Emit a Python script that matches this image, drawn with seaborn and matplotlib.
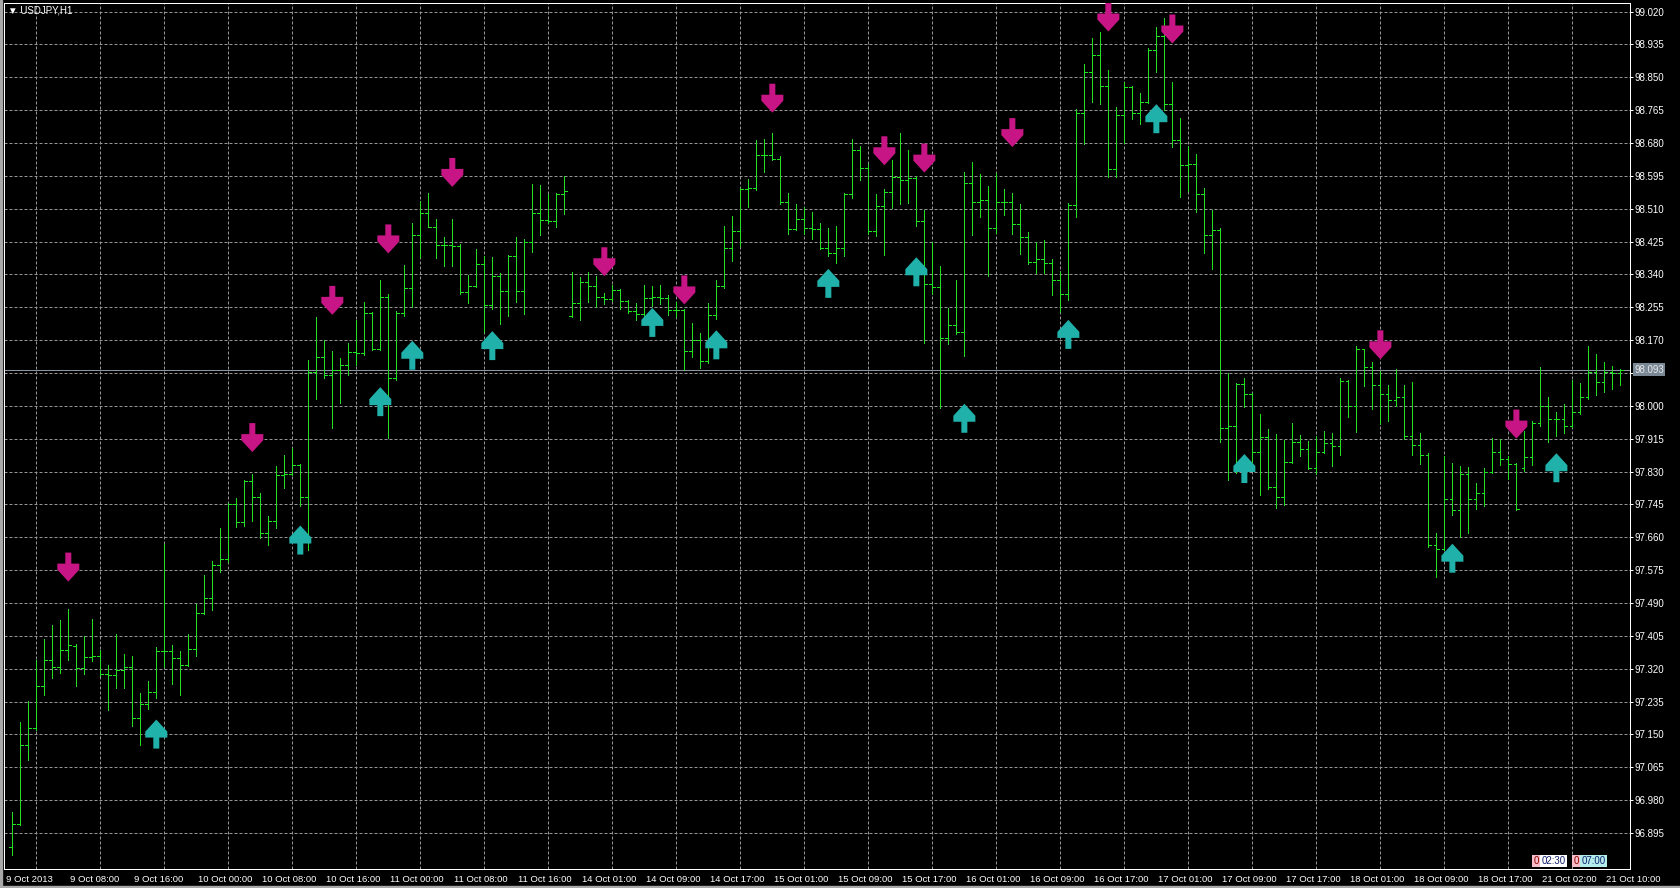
import numpy as np
import pandas as pd
import matplotlib
matplotlib.use("Agg")
import matplotlib.pyplot as plt
import matplotlib.transforms as mtransforms
from matplotlib.path import Path
import seaborn as sns

# USDJPY H1 bars, 9 Oct 01:00 .. 21 Oct 10:00
open_ = [96.860, 96.918, 97.122, 97.167, 97.276, 97.342, 97.325, 97.368, 97.380, 97.323,
         97.351, 97.353, 97.307, 97.303, 97.318, 97.325, 97.192, 97.228, 97.260, 97.366,
         97.366, 97.347, 97.331, 97.371, 97.464, 97.504, 97.589, 97.604, 97.746, 97.700,
         97.805, 97.764, 97.672, 97.702, 97.820, 97.825, 97.846, 97.764, 98.089, 98.126,
         98.080, 98.094, 98.105, 98.139, 98.136, 98.241, 98.148, 98.283, 98.071, 98.241,
         98.304, 98.441, 98.499, 98.464, 98.416, 98.416, 98.414, 98.295, 98.310, 98.367,
         98.261, 98.336, 98.296, 98.388, 98.296, 98.423, 98.499, 98.481, 98.479, 98.549,
         98.232, 98.265, 98.321, 98.310, 98.283, 98.276, 98.300, 98.272, 98.246, 98.238,
         98.279, 98.283, 98.279, 98.249, 98.247, 98.141, 98.171, 98.115, 98.236, 98.309,
         98.409, 98.452, 98.561, 98.563, 98.650, 98.650, 98.639, 98.527, 98.458, 98.484,
         98.460, 98.458, 98.409, 98.396, 98.409, 98.549, 98.663, 98.616, 98.452, 98.516,
         98.553, 98.592, 98.585, 98.590, 98.478, 98.316, 98.308, 98.176, 98.210, 98.190,
         98.576, 98.528, 98.532, 98.459, 98.528, 98.528, 98.470, 98.436, 98.373, 98.379,
         98.370, 98.327, 98.289, 98.520, 98.757, 98.865, 98.908, 98.828, 98.614, 98.752,
         98.824, 98.759, 98.787, 98.922, 98.957, 98.781, 98.688, 98.623, 98.626, 98.548,
         98.442, 98.456, 97.944, 97.947, 98.056, 98.030, 97.881, 97.920, 97.789, 97.764,
         97.855, 97.906, 97.889, 97.840, 97.880, 97.905, 97.896, 98.064, 98.001, 98.146,
         98.101, 98.055, 98.032, 98.015, 98.023, 97.923, 97.900, 97.874, 97.639, 97.630,
         97.758, 97.730, 97.823, 97.760, 97.775, 97.829, 97.880, 97.863, 97.851, 97.840,
         97.868, 97.956, 98.001, 97.965, 97.965, 97.948, 97.984, 98.023, 98.087, 98.061,
         98.087, 98.084]
high = [96.949, 97.183, 97.237, 97.342, 97.397, 97.432, 97.447, 97.475, 97.385, 97.405,
        97.449, 97.368, 97.331, 97.410, 97.359, 97.353, 97.257, 97.289, 97.377, 97.644,
        97.382, 97.365, 97.410, 97.488, 97.563, 97.600, 97.685, 97.749, 97.761, 97.808,
        97.825, 97.775, 97.715, 97.845, 97.874, 97.892, 97.850, 98.119, 98.231, 98.171,
        98.143, 98.123, 98.162, 98.222, 98.270, 98.244, 98.327, 98.289, 98.245, 98.365,
        98.474, 98.531, 98.550, 98.483, 98.438, 98.483, 98.419, 98.339, 98.405, 98.388,
        98.385, 98.345, 98.391, 98.436, 98.431, 98.575, 98.572, 98.549, 98.551, 98.595,
        98.347, 98.333, 98.347, 98.336, 98.291, 98.313, 98.302, 98.275, 98.265, 98.314,
        98.311, 98.314, 98.288, 98.268, 98.250, 98.214, 98.188, 98.266, 98.325, 98.466,
        98.492, 98.564, 98.587, 98.689, 98.691, 98.705, 98.646, 98.551, 98.523, 98.515,
        98.501, 98.472, 98.460, 98.465, 98.552, 98.691, 98.673, 98.627, 98.549, 98.561,
        98.636, 98.705, 98.663, 98.596, 98.508, 98.423, 98.361, 98.253, 98.327, 98.605,
        98.632, 98.601, 98.569, 98.603, 98.560, 98.551, 98.522, 98.450, 98.425, 98.429,
        98.379, 98.349, 98.524, 98.767, 98.885, 98.951, 98.968, 98.869, 98.774, 98.839,
        98.828, 98.810, 98.925, 98.979, 99.003, 98.839, 98.746, 98.672, 98.651, 98.565,
        98.508, 98.460, 98.084, 98.060, 98.071, 98.034, 97.980, 97.941, 97.928, 97.913,
        97.956, 97.926, 97.909, 97.923, 97.935, 97.930, 98.073, 98.067, 98.156, 98.148,
        98.113, 98.090, 98.055, 98.096, 98.055, 98.061, 97.930, 97.877, 97.670, 97.870,
        97.853, 97.844, 97.842, 97.801, 97.840, 97.917, 97.915, 97.870, 97.853, 97.935,
        97.961, 98.101, 98.023, 97.984, 98.004, 98.067, 98.058, 98.156, 98.133, 98.113,
        98.104, 98.096]
low = [96.838, 96.915, 97.083, 97.161, 97.251, 97.295, 97.310, 97.342, 97.275, 97.307,
       97.340, 97.301, 97.214, 97.270, 97.270, 97.172, 97.122, 97.216, 97.244, 97.324,
       97.281, 97.253, 97.328, 97.353, 97.461, 97.471, 97.571, 97.595, 97.687, 97.689,
       97.702, 97.659, 97.641, 97.685, 97.787, 97.822, 97.742, 97.628, 98.019, 98.073,
       97.944, 98.008, 98.080, 98.105, 98.131, 98.145, 98.145, 97.917, 98.068, 98.233,
       98.257, 98.385, 98.462, 98.382, 98.362, 98.362, 98.290, 98.265, 98.307, 98.192,
       98.250, 98.212, 98.232, 98.270, 98.239, 98.399, 98.442, 98.473, 98.462, 98.497,
       98.229, 98.222, 98.270, 98.257, 98.264, 98.272, 98.250, 98.241, 98.222, 98.229,
       98.259, 98.264, 98.236, 98.230, 98.094, 98.126, 98.098, 98.111, 98.225, 98.305,
       98.374, 98.413, 98.515, 98.558, 98.605, 98.636, 98.523, 98.446, 98.455, 98.446,
       98.432, 98.406, 98.387, 98.370, 98.389, 98.538, 98.584, 98.446, 98.439, 98.391,
       98.512, 98.523, 98.525, 98.465, 98.163, 98.290, 97.994, 98.159, 98.187, 98.130,
       98.442, 98.489, 98.336, 98.448, 98.494, 98.446, 98.393, 98.367, 98.343, 98.343,
       98.286, 98.243, 98.275, 98.489, 98.677, 98.787, 98.781, 98.593, 98.593, 98.679,
       98.741, 98.729, 98.784, 98.865, 98.765, 98.670, 98.541, 98.557, 98.502, 98.396,
       98.355, 97.907, 97.809, 97.826, 97.998, 97.851, 97.769, 97.786, 97.737, 97.743,
       97.853, 97.870, 97.837, 97.823, 97.878, 97.844, 97.874, 97.972, 97.932, 98.051,
       97.992, 97.952, 97.961, 98.001, 97.915, 97.874, 97.851, 97.636, 97.558, 97.627,
       97.717, 97.661, 97.672, 97.734, 97.741, 97.826, 97.848, 97.811, 97.732, 97.831,
       97.846, 97.949, 97.906, 97.922, 97.930, 97.946, 97.980, 98.018, 98.027, 98.036,
       98.044, 98.055]
close = [96.918, 97.122, 97.167, 97.276, 97.342, 97.325, 97.368, 97.382, 97.323, 97.351,
         97.353, 97.307, 97.303, 97.318, 97.325, 97.192, 97.228, 97.260, 97.366, 97.366,
         97.347, 97.331, 97.371, 97.464, 97.504, 97.589, 97.604, 97.746, 97.700, 97.805,
         97.764, 97.672, 97.702, 97.820, 97.825, 97.846, 97.764, 98.089, 98.126, 98.080,
         98.094, 98.105, 98.139, 98.136, 98.241, 98.148, 98.283, 98.071, 98.241, 98.304,
         98.441, 98.499, 98.464, 98.416, 98.416, 98.414, 98.295, 98.310, 98.367, 98.261,
         98.336, 98.296, 98.388, 98.296, 98.423, 98.499, 98.481, 98.479, 98.549, 98.556,
         98.265, 98.321, 98.310, 98.283, 98.276, 98.300, 98.272, 98.246, 98.238, 98.279,
         98.283, 98.279, 98.249, 98.247, 98.141, 98.171, 98.115, 98.236, 98.309, 98.409,
         98.452, 98.561, 98.563, 98.650, 98.650, 98.639, 98.527, 98.458, 98.484, 98.460,
         98.458, 98.409, 98.396, 98.409, 98.549, 98.663, 98.616, 98.452, 98.516, 98.553,
         98.592, 98.585, 98.590, 98.478, 98.316, 98.308, 98.176, 98.210, 98.190, 98.576,
         98.528, 98.532, 98.459, 98.528, 98.528, 98.470, 98.436, 98.373, 98.379, 98.370,
         98.327, 98.289, 98.520, 98.757, 98.865, 98.908, 98.828, 98.614, 98.752, 98.824,
         98.759, 98.787, 98.922, 98.957, 98.781, 98.688, 98.623, 98.626, 98.548, 98.442,
         98.456, 97.944, 97.947, 98.056, 98.030, 97.881, 97.920, 97.789, 97.764, 97.855,
         97.906, 97.889, 97.840, 97.880, 97.905, 97.896, 98.064, 98.001, 98.146, 98.101,
         98.055, 98.032, 98.015, 98.023, 97.923, 97.900, 97.874, 97.639, 97.630, 97.758,
         97.730, 97.823, 97.760, 97.775, 97.829, 97.880, 97.863, 97.851, 97.734, 97.868,
         97.956, 98.001, 97.965, 97.965, 97.948, 97.984, 98.023, 98.087, 98.061, 98.087,
         98.084, 98.092]

# signal arrows: bar number and price where the arrow sits
down_bars = [8, 31, 41, 48, 56, 75, 85, 96, 110, 115, 126, 138, 146, 172, 189]
down_price = [97.583, 97.918, 98.273, 98.432, 98.604, 98.373, 98.300, 98.796, 98.660,
              98.641, 98.707, 99.006, 98.975, 98.158, 97.953]
up_bars = [19, 37, 47, 51, 61, 81, 89, 103, 114, 120, 133, 144, 155, 181, 194]
up_price = [97.151, 97.653, 98.011, 98.131, 98.156, 98.216, 98.158, 98.317, 98.347,
            97.968, 98.185, 98.743, 97.838, 97.606, 97.840]

time_labels = ['9 Oct 2013', '9 Oct 08:00', '9 Oct 16:00', '10 Oct 00:00', '10 Oct 08:00',
               '10 Oct 16:00', '11 Oct 00:00', '11 Oct 08:00', '11 Oct 16:00', '14 Oct 01:00',
               '14 Oct 09:00', '14 Oct 17:00', '15 Oct 01:00', '15 Oct 09:00', '15 Oct 17:00',
               '16 Oct 01:00', '16 Oct 09:00', '16 Oct 17:00', '17 Oct 01:00', '17 Oct 09:00',
               '17 Oct 17:00', '18 Oct 01:00', '18 Oct 09:00', '18 Oct 17:00', '21 Oct 02:00',
               '21 Oct 10:00']
price_ticks = [99.020, 98.935, 98.850, 98.765, 98.680, 98.595, 98.510, 98.425, 98.340,
               98.255, 98.170, 98.085, 98.000, 97.915, 97.830, 97.745, 97.660, 97.575,
               97.490, 97.405, 97.320, 97.235, 97.150, 97.065, 96.980, 96.895]
last_price = 98.093
event_bars = [191, 196]
event_times = ['02:30', '07:00']
event_colors = ['white', '#b4ecec']

df = pd.DataFrame({'open': open_, 'high': high, 'low': low, 'close': close})
df['bar'] = np.arange(1, len(df) + 1)
label_bars = np.arange(len(time_labels)) * 8

BAR_GREEN = '#22e022'
PINK = '#c71585'
TEAL = '#20b2aa'
GRID = '#959595'
PX = 0.72  # one pixel in points at dpi 100

sns.set_theme(style="dark", rc={
    "figure.facecolor": "black",
    "axes.facecolor": "black",
    "axes.edgecolor": "white",
    "axes.linewidth": PX,
    "text.color": "white",
    "xtick.color": "white",
    "ytick.color": "white",
})
plt.rcParams['font.family'] = ['Liberation Sans', 'DejaVu Sans']

W, H = 1680, 888
fig = plt.figure(figsize=(W / 100, H / 100), dpi=100)
# plot box in pixels: left 3.5, right 1630, top 3.5, bottom 869
ax = fig.add_axes([3.5 / W, 1 - 869 / H, (1630 - 3.5) / W, (869 - 3.5) / H])

# window frame strips (left and bottom)
fig.patches.append(plt.Rectangle((0, 0), 2 / W, 1, transform=fig.transFigure,
                                 color='#a8a8a8', zorder=0))
fig.patches.append(plt.Rectangle((0, 0), 1, 2 / H, transform=fig.transFigure,
                                 color='#a8a8a8', zorder=0))

# OHLC bars
tick = 0.36
ax.vlines(df['bar'], df['low'], df['high'], colors=BAR_GREEN, lw=PX, antialiased=False, zorder=3)
ax.hlines(df['open'], df['bar'] - tick, df['bar'], colors=BAR_GREEN, lw=PX, antialiased=False, zorder=3)
ax.hlines(df['close'], df['bar'], df['bar'] + tick, colors=BAR_GREEN, lw=PX, antialiased=False, zorder=3)

# arrows
up_verts = [(0, 14.5), (11, 2.5), (11, -3.5), (3, -3.5), (3, -14.5),
            (-3, -14.5), (-3, -3.5), (-11, -3.5), (-11, 2.5), (0, 14.5)]
codes = [Path.MOVETO] + [Path.LINETO] * 8 + [Path.CLOSEPOLY]
up_arrow = Path(up_verts, codes)
down_arrow = Path([(x, -y) for x, y in up_verts], codes)
arrow_s = (2 * 14.5 * PX) ** 2
sns.scatterplot(x=down_bars, y=down_price, marker=down_arrow, s=arrow_s, color=PINK,
                edgecolor='none', linewidth=0, ax=ax, zorder=4, legend=False)
sns.scatterplot(x=up_bars, y=up_price, marker=up_arrow, s=arrow_s, color=TEAL,
                edgecolor='none', linewidth=0, ax=ax, zorder=4, legend=False)

# last price line
ax.axhline(last_price, color='#8c96a2', lw=PX, zorder=2)

ax.set_xlim(-0.1, 203.2)
ax.set_ylim(96.802, 99.041)

# grid: vertical every 4 bars, horizontal at price ticks
ax.set_xticks(label_bars)
ax.set_xticklabels(time_labels)
ax.set_xticks(np.arange(0, 204, 4), minor=True)
ax.set_yticks(price_ticks)
# the 98.085 label sits under the last-price box, as in the terminal
ax.set_yticklabels(['' if abs(v - last_price) < 0.02 else f'{v:.3f}' for v in price_ticks])
ax.grid(True, which='minor', axis='x', color=GRID, lw=PX, linestyle=(0, (3, 2)))
ax.grid(True, which='major', axis='y', color=GRID, lw=PX, linestyle=(0, (3, 2)))
ax.grid(False, which='major', axis='x')
ax.set_axisbelow(True)

ax.tick_params(axis='x', which='major', direction='out', length=3.5, width=PX,
               pad=0.6, labelsize=6.8, colors='white')
ax.tick_params(axis='x', which='minor', length=0)
ax.tick_params(axis='y', left=False, right=True, labelleft=False, labelright=True,
               direction='out', length=2.5, width=PX, pad=1, labelsize=7, colors='white')
shift = mtransforms.ScaledTranslation(1.5 / 100, 0, fig.dpi_scale_trans)
for lab in ax.get_xticklabels():
    lab.set_horizontalalignment('left')
    lab.set_transform(lab.get_transform() + shift)

for sp in ax.spines.values():
    sp.set_color('white')
    sp.set_linewidth(PX)

# current price box on the price scale
ax.annotate(f'{last_price:.3f}', xy=(1, last_price), xycoords=('axes fraction', 'data'),
            xytext=(3, 0), textcoords='offset points', ha='left', va='center',
            fontsize=7, color='#e8e8e8', annotation_clip=False, zorder=10,
            bbox=dict(boxstyle='square,pad=0.15', fc='#7a8896', ec='none'))

# symbol caption
ax.text(0.0025, 0.9915, '▼ USDJPY,H1', transform=ax.transAxes, ha='left', va='center',
        fontsize=7, color='white')

# event markers near the time scale
for b, t, c in zip(event_bars, event_times, event_colors):
    ax.annotate('0', xy=(b, 0), xycoords=('data', 'axes fraction'), xytext=(1, 3),
                textcoords='offset pixels', ha='left', va='bottom', fontsize=7,
                color='#8b0000', zorder=10,
                bbox=dict(boxstyle='square,pad=0.12', fc='#f6bcc8', ec='none'))
    ax.annotate(t, xy=(b, 0), xycoords=('data', 'axes fraction'), xytext=(9, 3),
                textcoords='offset pixels', ha='left', va='bottom', fontsize=7,
                color='#10206a', zorder=10,
                bbox=dict(boxstyle='square,pad=0.12', fc=c, ec='none'))

fig.savefig('out.png', dpi=100, facecolor='black')
